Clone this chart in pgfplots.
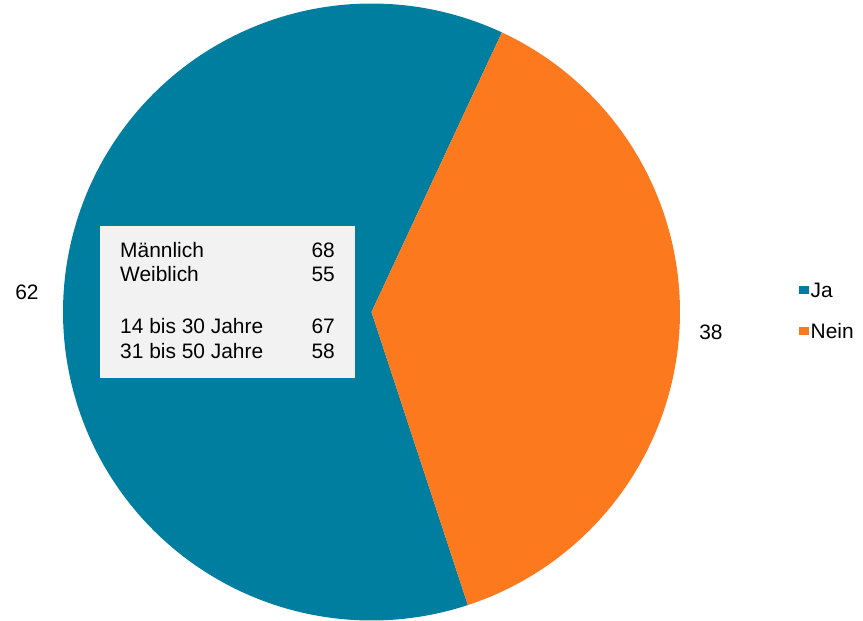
\documentclass[border=0pt]{standalone}
\usepackage{pgfplots}
\pgfplotsset{compat=1.18}
\usepackage{fontspec}
\setmainfont{Liberation Sans}
\definecolor{jablue}{RGB}{0,126,159}
\definecolor{neinorange}{RGB}{253,121,30}
\definecolor{boxgray}{RGB}{242,242,242}
\begin{document}
\begin{tikzpicture}
\def\cx{371.5}\def\cy{309}\def\r{308.5}
\def\vja{62}\def\vnein{38}
\def\start{65}
\begin{axis}[
  x=1bp, y=1bp, xmin=0, xmax=863, ymin=0, ymax=621,
  hide axis, clip=false, anchor=south west, at={(0,0)},
  legend style={at={(axis cs:799,340)}, anchor=north west, draw=none, fill=none,
    font=\fontsize{21}{24}\selectfont, row sep=22bp, inner sep=0pt,
    nodes={inner sep=1.5bp}},
  legend cell align=left,
  legend image code/.code={\fill[#1] (0bp,-3.5bp) rectangle (10bp,4.5bp);},
]
\addplot[fill=jablue, draw=none, domain={\start}:{\start+\vja*3.6}, samples=300, variable=\t]
  ({\cx+\r*cos(\t)}, {\cy+\r*sin(\t)}) -- (\cx,\cy) -- cycle;
\addlegendentry{Ja}
\addplot[fill=neinorange, draw=none, domain={\start-\vnein*3.6}:{\start}, samples=200, variable=\t]
  ({\cx+\r*cos(\t)}, {\cy+\r*sin(\t)}) -- (\cx,\cy) -- cycle;
\addlegendentry{Nein}
% value labels
\node[font=\fontsize{21}{24}\selectfont, anchor=base] at (axis cs:27,322) {62};
\node[font=\fontsize{21}{24}\selectfont, anchor=base] at (axis cs:711,282) {38};
% info box
\fill[boxgray] (axis cs:100,243) rectangle (axis cs:355,395);
\begin{scope}[every node/.style={font=\fontsize{21}{24}\selectfont, inner sep=0pt}]
\node[anchor=base west] at (axis cs:120,364) {Männlich};
\node[anchor=base east] at (axis cs:335,364) {68};
\node[anchor=base west] at (axis cs:120,340) {Weiblich};
\node[anchor=base east] at (axis cs:335,340) {55};
\node[anchor=base west] at (axis cs:120,288) {14 bis 30 Jahre};
\node[anchor=base east] at (axis cs:335,288) {67};
\node[anchor=base west] at (axis cs:120,263) {31 bis 50 Jahre};
\node[anchor=base east] at (axis cs:335,263) {58};
\end{scope}
\end{axis}
\pgfresetboundingbox
\path[use as bounding box] (0,0) rectangle (863bp,621bp);
\end{tikzpicture}
\end{document}
